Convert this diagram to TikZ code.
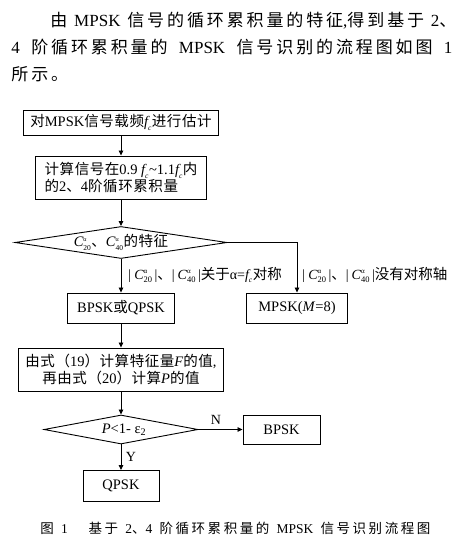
\documentclass[tikz,border=0pt]{standalone}
\usepackage{fontspec}
\setmainfont{Liberation Serif}
\newfontfamily\cjk[LetterSpace=4]{Noto Sans CJK SC}
\newfontfamily\cjkl{Noto Sans CJK SC}
\newfontfamily\cjkp[LetterSpace=17]{Noto Sans CJK SC}
\newfontfamily\cjkc[LetterSpace=19]{Noto Sans CJK SC}
\usetikzlibrary{shapes.geometric,arrows.meta}
\newcommand\zh[1]{{\cjk #1}}
\newcommand\zl[1]{{\cjkl\fontsize{14.5}{16}\selectfont #1}}
\newcommand\zp[1]{{\cjkp #1}}
\newcommand\zc[1]{{\cjkc #1}}
\newcommand\Ca[1]{$\hbox{\itshape C}^{\hbox{\fontsize{6}{6}\selectfont α}}_{\hbox{\fontsize{7.5}{7.5}\selectfont #1}}$}
\newcommand\Cb[1]{|\kern3pt$\hbox{\itshape C}^{\hbox{\fontsize{7}{7}\selectfont α}}_{\hbox{\fontsize{8.5}{8.5}\selectfont #1}}$\kern2pt|}
\newcommand\fcc{$\hbox{\itshape f}_{\hbox{\fontsize{7.5}{7.5}\selectfont\itshape c}}$}
\begin{document}
\begin{tikzpicture}[x=1pt,y=-1pt,line width=0.9pt,
  box/.style={draw,inner sep=0pt,font=\fontsize{14.5}{17}\selectfont},
  dia/.style={draw,diamond,inner sep=0pt,font=\fontsize{14.5}{17}\selectfont},
  arr/.style={-{Triangle[length=5pt,width=4.5pt]},line width=0.8pt},
  lab/.style={font=\fontsize{14}{16}\selectfont,inner sep=0pt},
  para/.style={anchor=base west,inner sep=0pt,font=\fontsize{17}{17}\selectfont}]
\useasboundingbox (0,0) rectangle (469,545);
% paragraph
\node[para] (p1) at (50,27) {\makebox[406pt][s]{\zp{由} MPSK \zp{信号的循环累积量的特征},\zp{得到基于} 2\zp{、}}};
\node[para] (p2) at (11,54) {\makebox[441pt][s]{4 \zp{阶循环累积量的} MPSK \zp{信号识别的流程图如图} 1}};
\node[para] (p3) at (11,81) {\zp{所示。}};
% flowchart
\node[box,minimum width=195pt,minimum height=25pt] (b1) at (121,122.5) {\zh{对}MPSK\zh{信号载频}\fcc\zh{进行估计}};
\node[box,minimum width=171pt,minimum height=43pt,align=left] (b2) at (121,177.5) {\zh{计算信号在}0.9 \fcc\textasciitilde1.1\fcc\zh{内}\\\zh{的}2\zh{、}4\zh{阶循环累积量}};
\node[dia,minimum width=212pt,minimum height=32pt,aspect=6.6] (d1) at (121,242.5) {\Ca{20}\zh{、}\Ca{40}\zh{的特征}};
\node[box,minimum width=107pt,minimum height=30pt] (b3) at (121,308) {BPSK\zh{或}QPSK};
\node[box,minimum width=101pt,minimum height=30pt] (b4) at (297,308) {MPSK(\textit{M}=8)};
\node[box,minimum width=205pt,minimum height=43pt,align=center] (b5) at (121,369.5) {\zh{由式（}19\zh{）计算特征量}\textit{F}\zh{的值},\\\zh{再由式（}20\zh{）计算}\textit{P}\zh{的值}};
\node[dia,minimum width=154pt,minimum height=29pt,aspect=5.3] (d2) at (121,429.5) {\hspace{6pt}\textit{P}<1- ε\textsubscript{2}};
\node[box,minimum width=77pt,minimum height=29pt] (b6) at (281.5,429.5) {BPSK};
\node[box,minimum width=76pt,minimum height=31pt] (b7) at (121,486) {QPSK};
% connectors
\draw[arr] (b1) -- (b2);
\draw[arr] (b2) -- (d1);
\draw[arr] (d1) -- (b3);
\draw[arr] (d1.east) -| (b4.north);
\draw[arr] (b3) -- (b5);
\draw[arr] (b5) -- (d2);
\draw[arr] (d2.east) -- (b6.west);
\draw[arr] (d2.south) -- (b7.north);
% labels
\node[lab,anchor=west] (l1) at (128,275) {\Cb{20}\zl{、}\Cb{40}\zl{关于}α=\fcc\zl{对称}};
\node[lab,anchor=west] (l2) at (302,275) {\Cb{20}\zl{、}\Cb{40}\zl{没有对称轴}};
\node[font=\fontsize{14}{14}\selectfont,inner sep=0pt] (lN) at (216,420) {N};
\node[font=\fontsize{14}{14}\selectfont,inner sep=0pt] (lY) at (131,457) {Y};
% caption
\node[anchor=base west,inner sep=0pt,font=\fontsize{13.5}{13.5}\selectfont] (cap) at (40,533) {\makebox[390pt][s]{\zc{图} 1 \quad \zc{基于} 2\zc{、}4 \zc{阶循环累积量的} MPSK \zc{信号识别流程图}}};
\end{tikzpicture}
\end{document}
